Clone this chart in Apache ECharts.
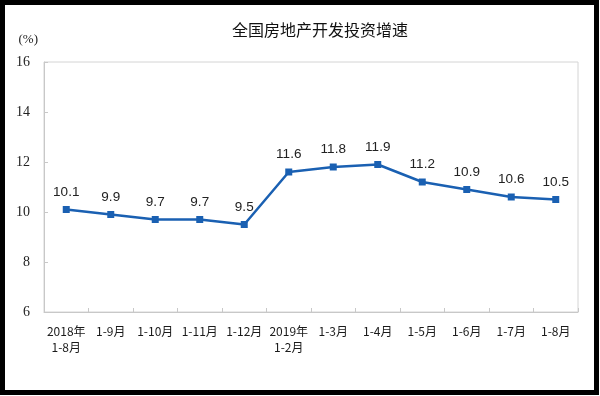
<!DOCTYPE html>
<html>
<head>
<meta charset="utf-8">
<script src="https://cdn.jsdelivr.net/npm/echarts@6/dist/echarts.min.js"></script>
<style>html,body{margin:0;padding:0;background:#fff}#c{width:600px;height:396px}</style>
</head>
<body>
<div id="c"></div>
<script>
var categories = ['2018年\n1-8月','1-9月','1-10月','1-11月','1-12月','2019年\n1-2月','1-3月','1-4月','1-5月','1-6月','1-7月','1-8月'];
var growth = [10.1, 9.9, 9.7, 9.7, 9.5, 11.6, 11.8, 11.9, 11.2, 10.9, 10.6, 10.5];
var yTicks = [6, 8, 10, 12, 14, 16];

var chart = echarts.init(document.getElementById('c'));
chart.setOption({
  backgroundColor: '#fff',
  animation: false,
  title: {
    text: '全国房地产开发投资增速',
    left: 315, top: 17, textAlign: 'center',
    textStyle: {fontFamily: 'Noto Sans CJK SC', fontSize: 16, fontWeight: 'normal', color: '#111'}
  },
  graphic: [{
    type: 'rect', silent: true, z: 100,
    shape: {x: 2.5, y: 2.5, width: 594, height: 390},
    style: {fill: 'none', stroke: '#000', lineWidth: 5}
  }],
  grid: {left: 44, right: 22, top: 62, bottom: 84, show: true, borderColor: '#d4d4d4', borderWidth: 1},
  xAxis: {
    type: 'category', data: categories, boundaryGap: true,
    axisLine: {lineStyle: {color: '#c8c8c8'}},
    axisTick: {show: true, inside: true, length: 4, lineStyle: {color: '#c8c8c8'}},
    axisLabel: {interval: 0, margin: 11, fontFamily: 'Noto Sans CJK SC', fontSize: 12, lineHeight: 16, color: '#1a1a1a'}
  },
  yAxis: {
    type: 'value', min: yTicks[0], max: yTicks[yTicks.length-1], interval: 2,
    name: '(%)', nameLocation: 'end', nameGap: 16,
    nameTextStyle: {fontFamily: 'Liberation Serif', fontSize: 13, color: '#222', align: 'right', padding: [0, 6, 0, 0]},
    splitLine: {show: false},
    axisLine: {show: true, lineStyle: {color: '#c8c8c8'}},
    axisTick: {show: true, inside: true, length: 4, lineStyle: {color: '#c8c8c8'}},
    axisLabel: {margin: 14, fontFamily: 'Liberation Serif', fontSize: 14, color: '#222'}
  },
  series: [{
    type: 'line', data: growth,
    symbol: 'rect', symbolSize: 7,
    lineStyle: {color: '#1a60b2', width: 2.5},
    itemStyle: {color: '#1a60b2'},
    label: {show: true, position: 'top', distance: 7, fontFamily: 'Liberation Sans', fontSize: 13.5, color: '#222'}
  }]
});
</script>
</body>
</html>
